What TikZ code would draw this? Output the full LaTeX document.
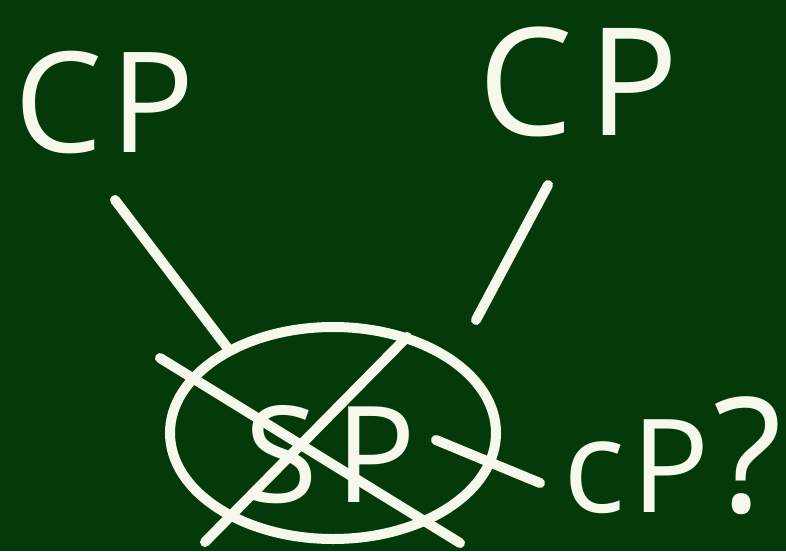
\documentclass[tikz,border=0pt]{standalone}
\usepackage{fontspec}
\setmainfont{Open Sans}
\usepackage{tikz}
\usetikzlibrary{shapes.geometric}
\definecolor{board}{RGB}{4,58,10}
\definecolor{chalk}{RGB}{246,248,236}

\begin{document}
\begin{tikzpicture}[
  x=1pt, y=-1pt,
  chalkline/.style={draw=chalk, line width=10pt, line cap=round},
  chalktext/.style={text=chalk, inner sep=0pt, font=\fontsize{#1}{#1}\selectfont},
  oval/.style={draw=chalk, line width=10pt, ellipse, minimum width=326pt,
               minimum height=212pt, inner sep=0pt},
]
  % Board
  \fill[board] (0,0) rectangle (786,551);
  \useasboundingbox (0,0) rectangle (786,551);

  % Top labels
  \node[chalktext=140, anchor=base west] (CPl) at (14,152) {C\hspace{8pt}P};
  \node[chalktext=150, anchor=base west] (CPr) at (478,135) {C\hspace{16pt}P};

  % Circled and crossed out
  \node[oval] (ring) at (333,433) {};
  \node[chalktext=134, anchor=base west] (SP) at (244,502) {S\hspace{18pt}P};
  \node[chalktext=130, anchor=base west] (CPq) at (563,512)
    {c\hspace{6pt}P\hspace{4pt}{\fontsize{160}{160}\selectfont ?}};

  % Free ends of the strokes
  \coordinate (lA) at (115,200);
  \coordinate (rA) at (548,185);
  \coordinate (rB) at (476,320);
  \coordinate (qA) at (436,440);
  \coordinate (qB) at (540,483);
  \coordinate (xA) at (160,358);
  \coordinate (xB) at (460,543);
  \coordinate (yA) at (205,542);
  \coordinate (yB) at (407,337);

  % Strokes
  \draw[chalkline] (lA) -- (ring.141);
  \draw[chalkline] (rA) -- (rB);
  \draw[chalkline] (qA) -- (qB);
  \draw[chalkline] (xA) -- (xB);
  \draw[chalkline] (yA) -- (yB);
\end{tikzpicture}
\end{document}
